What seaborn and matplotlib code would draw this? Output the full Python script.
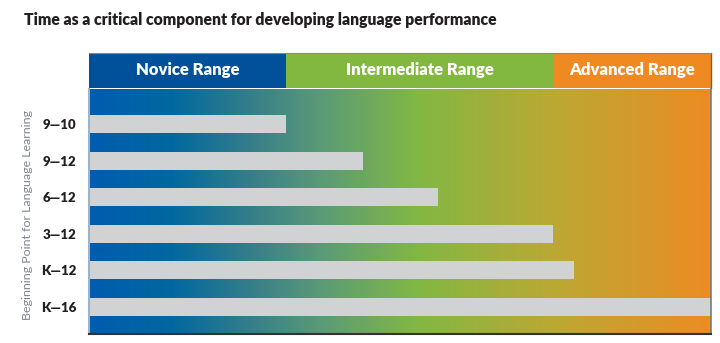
import numpy as np
import pandas as pd
import matplotlib
matplotlib.use("Agg")
import matplotlib.pyplot as plt
from matplotlib.colors import LinearSegmentedColormap
import seaborn as sns

# ---- data ----
categories = ["9—10", "9—12", "6—12", "3—12", "K—12", "K—16"]
progress = [31.7, 44.1, 56.1, 74.6, 78.0, 100.0]   # % of scale reached
range_names = ["Novice Range", "Intermediate Range", "Advanced Range"]
range_starts = [0.0, 31.7, 74.6]
range_ends = [31.7, 74.6, 100.0]
range_colors = ["#00509A", "#82B840", "#EF8A22"]

title = "Time as a critical component for developing language performance"
ylabel = "Beginning Point for Language Learning"

sns.set_theme(style="white")
plt.rcParams["font.family"] = ["Lato", "DejaVu Sans"]

fig = plt.figure(figsize=(7.2, 3.43), dpi=100)
W, H = 720, 343

def px_axes(x0, y0, x1, y1):
    return fig.add_axes([x0 / W, 1 - y1 / H, (x1 - x0) / W, (y1 - y0) / H])

# main plot
ax = px_axes(89, 89, 711, 334)
df = pd.DataFrame({"cat": categories, "val": progress})

grad = LinearSegmentedColormap.from_list("g", [
    (0.0, "#005CB0"), (0.13, "#0068A0"), (0.27, "#3A8088"),
    (0.37, "#5A9A78"), (0.53, "#82B843"), (0.75, "#BCA834"),
    (0.88, "#D49A2C"), (1.0, "#EC8C22")])
ax.imshow(np.linspace(0, 1, 512).reshape(1, -1), cmap=grad, aspect="auto",
          extent=[0, 100, 5.75, -0.96], zorder=0, interpolation="bicubic")

sns.barplot(data=df, x="val", y="cat", orient="h", color="#D1D2D4",
            saturation=1, width=0.49, ax=ax, zorder=2, linewidth=0,
            edgecolor="none")
ax.set_xlim(0, 100)
ax.set_ylim(5.75, -0.96)
ax.set_xlabel("")
ax.set_ylabel("")
ax.set_xticks([])
ax.tick_params(axis="y", length=0, pad=9)
for lab in ax.get_yticklabels():
    lab.set_fontweight("heavy")
    lab.set_fontsize(9.5)
    lab.set_color("#231F20")
ax.spines["top"].set_visible(False)
ax.spines["left"].set_color("#9FB3C8")
ax.spines["left"].set_linewidth(1.5)
ax.spines["bottom"].set_color("#333333")
ax.spines["bottom"].set_linewidth(1.5)
ax.spines["right"].set_color("#7A7A7A")
ax.spines["right"].set_linewidth(1.2)

# header band
hx = px_axes(89, 53, 711, 88)
widths = [e - s for s, e in zip(range_starts, range_ends)]
hx.barh([0, 0, 0], widths, left=range_starts, color=range_colors, height=1.0,
        linewidth=0)
for name, s, e in zip(range_names, range_starts, range_ends):
    hx.text((s + e) / 2, 0, name, ha="center", va="center", color="white",
            fontsize=12, fontweight="heavy")
hx.set_xlim(0, 100)
hx.set_ylim(-0.5, 0.5)
hx.set_xticks([])
hx.set_yticks([])
for s in ["left", "bottom"]:
    hx.spines[s].set_visible(False)
hx.spines["top"].set_color("#888888")
hx.spines["top"].set_linewidth(0.8)
hx.spines["right"].set_color("#8B5A2B")
hx.spines["right"].set_linewidth(1.0)

fig.text(24 / W, 1 - 20 / H, title, ha="left", va="center", fontsize=11.3,
         fontweight="heavy", color="#231F20")
fig.text(28 / W, 1 - 215 / H, ylabel, ha="center", va="center", rotation=90,
         fontsize=8.9, color="#7C8590", fontweight="normal")

fig.savefig("out.png", dpi=100)
